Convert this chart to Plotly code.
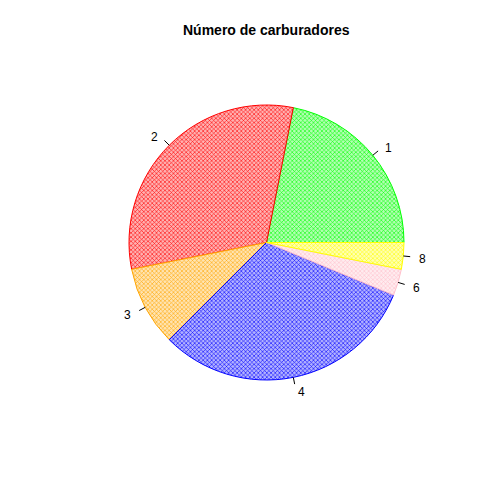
import math
import plotly.graph_objects as go

categories = ["1", "2", "3", "4", "6", "8"]
counts = [7, 10, 3, 10, 1, 1]
colors = ["#00FF00", "#FF0000", "#FFA500", "#0000FF", "#FFC0CB", "#FFFF00"]
title = "Número de carburadores"

W = H = 504
off = 8  # page body margin in the browser
cx, cy, r = 266.5 - off, 242.5 - off, 137.5  # pixels, y from top


def tint(hexcol, f=0.7):
    h = hexcol.lstrip("#")
    rgb = [int(h[i:i + 2], 16) for i in (0, 2, 4)]
    return "rgb(%d,%d,%d)" % tuple(round(c + (255 - c) * f) for c in rgb)


light = [tint(c) for c in colors]

total = sum(counts)
# plotly (counterclockwise) places the end of the first slice at `rotation`
rotation = 90 - 360 * counts[0] / total

fig = go.Figure(go.Pie(
    labels=categories, values=counts, sort=False,
    direction="counterclockwise", rotation=rotation,
    textinfo="none", hoverinfo="label+value", showlegend=False,
    marker=dict(colors=colors, line=dict(color=colors, width=1),
                pattern=dict(shape="x", fgcolor=colors, bgcolor=light,
                             size=3, solidity=0.35, fillmode="replace")),
    domain=dict(x=[(cx - r) / W, (cx + r) / W],
                y=[(H - cy - r) / H, (H - cy + r) / H]),
))

cum = 0
shapes, annotations = [], []
for lab, v in zip(categories, counts):
    th = 2 * math.pi * (cum + v / 2) / total
    cum += v
    c, s = math.cos(th), math.sin(th)
    x1, y1 = cx + r * c, cy - r * s
    x2, y2 = cx + 1.05 * r * c, cy - 1.05 * r * s
    x3, y3 = cx + 1.1 * r * c, cy - 1.1 * r * s
    shapes.append(dict(type="line", xref="paper", yref="paper",
                       x0=x1 / W, y0=1 - y1 / H, x1=x2 / W, y1=1 - y2 / H,
                       line=dict(color="black", width=1)))
    annotations.append(dict(text=lab, xref="paper", yref="paper",
                            x=x3 / W, y=1 - (y3 + 1.5) / H, showarrow=False,
                            xanchor="left" if c > 0 else "right", yanchor="middle",
                            font=dict(size=12, color="black")))
annotations.append(dict(text="<b>" + title + "</b>", xref="paper", yref="paper",
                        x=cx / W, y=1 - (30 - off) / H, showarrow=False,
                        xanchor="center", yanchor="middle",
                        font=dict(size=14, color="black")))

fig.update_layout(width=W, height=H, margin=dict(l=0, r=0, t=0, b=0),
                  paper_bgcolor="white", plot_bgcolor="white",
                  font=dict(family="Liberation Sans, Arial, sans-serif"),
                  shapes=shapes, annotations=annotations)
fig.write_html("out.html")
